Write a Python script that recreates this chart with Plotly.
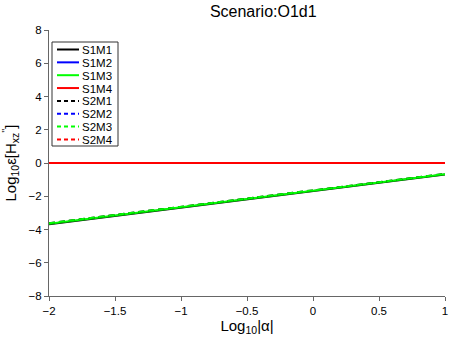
import plotly.graph_objects as go

# log10|alpha|
alpha_log = [-2, -1.5, -1, -0.5, 0, 0.5, 1]

# log10 error per series
s1m1 = [-3.68, -3.19, -2.69, -2.19, -1.69, -1.19, -0.69]
s1m2 = [0, 0, 0, 0, 0, 0, 0]
s1m3 = [-3.65, -3.15, -2.65, -2.15, -1.65, -1.15, -0.68]
s1m4 = [0, 0, 0, 0, 0, 0, 0]
s2m1 = [-3.62, -3.12, -2.62, -2.12, -1.62, -1.12, -0.66]
s2m2 = [0, 0, 0, 0, 0, 0, 0]
s2m3 = [-3.62, -3.12, -2.62, -2.12, -1.62, -1.12, -0.66]
s2m4 = [0, 0, 0, 0, 0, 0, 0]

x_ticks = [-2, -1.5, -1, -0.5, 0, 0.5, 1]
y_ticks = [-8, -6, -4, -2, 0, 2, 4, 6, 8]

series = [
    ("S1M1", s1m1, "black", "solid"),
    ("S1M2", s1m2, "#0000ff", "solid"),
    ("S1M3", s1m3, "#00ff00", "solid"),
    ("S1M4", s1m4, "#ff0000", "solid"),
    ("S2M1", s2m1, "black", "dash"),
    ("S2M2", s2m2, "#0000ff", "dash"),
    ("S2M3", s2m3, "#00ff00", "dash"),
    ("S2M4", s2m4, "#ff0000", "dash"),
]

W, H = 450, 338
L, R, T, B = 49, 5, 30, 42
PW, PH = W - L - R, H - T - B


def px(x):
    return (x - L) / PW


def py(y):
    return (H - B - y) / PH


fig = go.Figure()
for name, ys, color, dash in series:
    fig.add_trace(go.Scatter(
        x=alpha_log, y=ys, mode="lines", name=name,
        line=dict(color=color, width=2,
                  dash="6px,4px" if dash == "dash" else dash),
        showlegend=False
    ))

# MATLAB-style compact legend box
shapes = [dict(type="rect", xref="paper", yref="paper",
               x0=px(52), x1=px(118), y0=py(146), y1=py(42),
               line=dict(color="#333333", width=1), fillcolor="white",
               layer="above")]
annotations = []
for i, (name, ys, color, dash) in enumerate(series):
    yy = 49.5 + i * 12.85
    shapes.append(dict(type="line", xref="paper", yref="paper",
                       x0=px(57), x1=px(79), y0=py(yy), y1=py(yy),
                       line=dict(color=color, width=2,
                                 dash="4px,3px" if dash == "dash" else dash),
                       layer="above"))
    annotations.append(dict(text=name, xref="paper", yref="paper",
                            x=px(81), y=py(yy), xanchor="left",
                            yanchor="middle", showarrow=False,
                            height=11, borderpad=0,
                            font=dict(size=11.5, color="black")))

axis_style = dict(
    showgrid=False, zeroline=False, showline=True, linecolor="#666666",
    linewidth=1, ticks="outside", ticklen=4, tickcolor="#666666",
    tickfont=dict(size=11.5, color="black"), mirror=False
)

fig.update_layout(
    width=W, height=H,
    margin=dict(l=L, r=R, t=T, b=B, autoexpand=False),
    paper_bgcolor="white", plot_bgcolor="white",
    font=dict(family="Liberation Sans, Arial, sans-serif", color="black"),
    title=dict(text="Scenario:O1d1", x=0.585, xanchor="center", y=0.965,
               yanchor="middle", font=dict(size=16)),
    showlegend=False,
    shapes=shapes,
    annotations=annotations,
)

fig.update_xaxes(
    range=[-2, 1], tickvals=x_ticks,
    title=dict(text="Log<sub>10</sub>|α|", font=dict(size=15), standoff=2),
    **axis_style
)
fig.update_yaxes(
    range=[-8, 8], tickvals=y_ticks,
    title=dict(text="Log<sub>10</sub>ε[H<sub>xz</sub><sup>''</sup>]",
               font=dict(size=15), standoff=8),
    **axis_style
)

fig.write_html("out.html", config={"displayModeBar": False},
               post_script="document.body.style.margin='0';")
